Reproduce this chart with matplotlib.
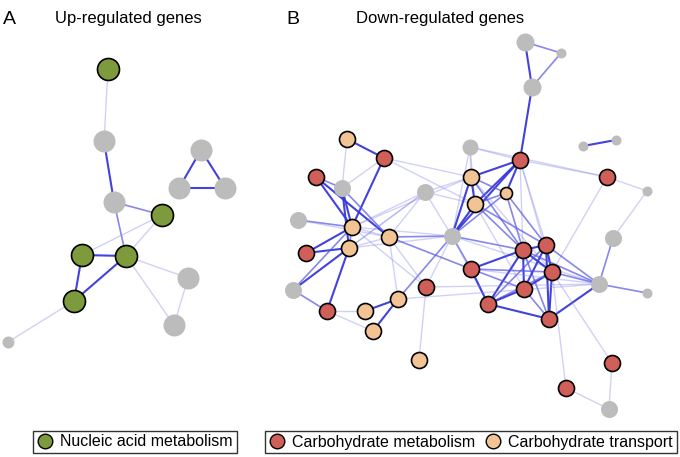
import matplotlib
matplotlib.use("Agg")
import matplotlib.pyplot as plt
from matplotlib.collections import LineCollection
from matplotlib.lines import Line2D

plt.rcParams['font.family'] = ['Liberation Sans', 'DejaVu Sans']

# node categories
GREEN, RED, TAN, GRAY = "nucleic", "carb_met", "carb_tr", "other"
colors = {GREEN: "#7d9a3c", RED: "#cf5f58", TAN: "#f2c393", GRAY: "#bcbcbc"}

# ---- panel A: up-regulated genes (layout positions, px) ----
a_x = [108, 104, 114, 162, 82, 126, 188, 74, 174, 8, 201, 179, 225]
a_y = [69, 141, 202, 215, 255, 256, 278, 301, 325, 342, 150, 188, 188]
a_cat = [GREEN, GRAY, GRAY, GREEN, GREEN, GREEN, GRAY, GREEN, GRAY, GRAY, GRAY, GRAY, GRAY]
a_size = [11, 11, 11, 11, 11, 11, 11, 11, 11, 6, 11, 11, 11]
a_edges = [(0, 1, 1), (1, 2, 3), (2, 3, 2), (2, 5, 2), (3, 4, 1), (3, 5, 1),
           (4, 5, 3), (4, 7, 3), (5, 7, 3), (5, 6, 1), (5, 8, 1), (6, 8, 1),
           (7, 9, 1), (10, 11, 3), (10, 12, 3), (11, 12, 3)]

# ---- panel B: down-regulated genes ----
b_x = [525, 561, 532, 583, 616, 520, 607, 647, 470, 471, 506, 475, 425, 452,
       523, 546, 471, 552, 524, 488, 549, 599, 613, 647, 612, 566, 609,
       347, 384, 316, 342, 298, 352, 389, 349, 306, 426, 293, 398, 327, 365, 373, 419]
b_y = [42, 53, 87, 146, 140, 160, 177, 191, 147, 177, 193, 204, 192, 236,
       250, 245, 269, 272, 289, 304, 319, 284, 238, 293, 363, 388, 409,
       139, 158, 177, 188, 220, 227, 237, 248, 253, 287, 290, 299, 311, 311, 331, 360]
b_cat = [GRAY, GRAY, GRAY, GRAY, GRAY, RED, RED, GRAY, GRAY, TAN, TAN, TAN, GRAY, GRAY,
         RED, RED, RED, RED, RED, RED, RED, GRAY, GRAY, GRAY, RED, RED, GRAY,
         TAN, RED, RED, GRAY, GRAY, TAN, TAN, TAN, RED, RED, GRAY, TAN, RED, TAN, TAN, TAN]
b_size = [9, 5, 9, 5, 5, 8, 8, 5, 8, 8, 6, 8, 8.5, 8.5,
          8, 8, 8, 8, 8, 8, 8, 8.5, 8.5, 5, 8, 8, 8.5,
          8, 8, 8, 8.5, 8.5, 8, 8, 8, 8, 8, 8.5, 8, 8, 8, 8, 8]
b_edges = [(0, 1, 2), (0, 2, 3), (1, 2, 2), (2, 5, 3), (3, 4, 3),
           (5, 6, 1), (6, 7, 1), (7, 22, 1), (6, 17, 1), (8, 5, 1), (8, 6, 1),
           (5, 9, 3), (5, 10, 3), (5, 11, 3), (5, 13, 3), (5, 14, 1), (5, 17, 1), (5, 15, 1),
           (8, 9, 1), (8, 11, 1), (8, 13, 1),
           (28, 9, 1), (28, 11, 1), (12, 9, 1), (12, 11, 1), (12, 13, 1),
           (12, 32, 1), (12, 34, 1), (12, 33, 1),
           (13, 9, 3), (13, 11, 3), (13, 10, 2), (13, 33, 2), (13, 32, 1), (13, 34, 1),
           (13, 16, 2), (13, 14, 2), (13, 38, 2), (13, 36, 1), (13, 21, 1), (13, 19, 1),
           (9, 10, 2), (9, 11, 3), (10, 11, 2), (9, 14, 2), (11, 14, 2), (11, 15, 2),
           (10, 14, 2), (10, 15, 2), (11, 18, 1), (9, 17, 1),
           (14, 15, 3), (14, 16, 3), (14, 17, 3), (14, 18, 3), (14, 19, 3), (14, 20, 2),
           (15, 17, 3), (15, 18, 3), (15, 19, 2), (15, 20, 3), (16, 17, 2), (16, 19, 3),
           (16, 18, 2), (17, 18, 3), (17, 19, 2), (17, 20, 3), (18, 19, 3), (18, 20, 2),
           (19, 20, 3), (15, 21, 2), (17, 21, 2), (20, 21, 3), (14, 21, 2), (16, 21, 1),
           (21, 22, 2), (21, 23, 2), (17, 25, 1), (17, 24, 1), (24, 26, 1), (25, 26, 1),
           (27, 28, 3), (27, 30, 1), (28, 30, 1), (28, 32, 3),
           (29, 30, 2), (29, 32, 3), (29, 33, 3), (30, 32, 3), (30, 34, 3), (30, 33, 2),
           (31, 32, 2), (31, 33, 1), (35, 32, 3), (35, 34, 3),
           (37, 34, 3), (37, 32, 2), (37, 39, 2), (39, 34, 3), (39, 40, 1), (39, 41, 1),
           (40, 38, 3), (41, 38, 3), (38, 21, 1), (36, 42, 1), (36, 21, 1),
           (36, 33, 1), (36, 32, 1), (33, 16, 2), (33, 32, 1), (33, 34, 1), (33, 38, 1),
           (32, 34, 2), (32, 9, 1), (34, 12, 1)]

edge_style = {1: ((0.55, 0.55, 0.93, 0.40), 1.0),
              2: ((0.33, 0.33, 0.90, 0.70), 1.2),
              3: ((0.22, 0.22, 0.86, 0.95), 1.5)}

fig = plt.figure(figsize=(6.8, 4.57), dpi=100)
ax = fig.add_axes([0, 0, 1, 1])
ax.set_xlim(0, 680)
ax.set_ylim(457, 0)
ax.axis("off")


def draw_net(xs, ys, cats, sizes, edges):
    segs, cols, lws = [], [], []
    for i, j, w in edges:
        segs.append([(xs[i], ys[i]), (xs[j], ys[j])])
        c, lw = edge_style[w]
        cols.append(c)
        lws.append(lw)
    ax.add_collection(LineCollection(segs, colors=cols, linewidths=lws, zorder=1))
    for x, y, c, r in zip(xs, ys, cats, sizes):
        s = (2 * r * 0.72) ** 2
        if c == GRAY:
            ax.scatter(x, y, s=s, color=colors[c], linewidths=0, zorder=2)
        else:
            ax.scatter(x, y, s=s, color=colors[c], edgecolors="black", linewidths=1.2, zorder=3)


draw_net(a_x, a_y, a_cat, a_size, a_edges)
draw_net(b_x, b_y, b_cat, b_size, b_edges)

ax.text(3, 19, "A", fontsize=14, va="center", ha="left")
ax.text(128, 19, "Up-regulated genes", fontsize=12, va="center", ha="center")
ax.text(286, 19, "B", fontsize=14, va="center", ha="left")
ax.text(440, 19, "Down-regulated genes", fontsize=12, va="center", ha="center")


def handle(c):
    return Line2D([], [], marker="o", linestyle="", markersize=10.5,
                  markerfacecolor=colors[c], markeredgecolor="black", markeredgewidth=1)


leg_kw = dict(frameon=True, fancybox=False, edgecolor="black", fontsize=11.5,
              handletextpad=0.45, borderpad=0.25, handlelength=1.0, borderaxespad=0,
              columnspacing=0.6)
leg_a = ax.legend([handle(GREEN)], ["Nucleic acid metabolism"], loc="center",
                  bbox_to_anchor=(135 / 680, 1 - 442 / 457), **leg_kw)
leg_a.get_frame().set_linewidth(1.0)
ax.add_artist(leg_a)
leg_b = ax.legend([handle(RED), handle(TAN)], ["Carbohydrate metabolism", "Carbohydrate transport"],
                  loc="center", ncol=2, bbox_to_anchor=(471 / 680, 1 - 442 / 457), **leg_kw)
leg_b.get_frame().set_linewidth(1.0)

fig.savefig("out.png", dpi=100)
